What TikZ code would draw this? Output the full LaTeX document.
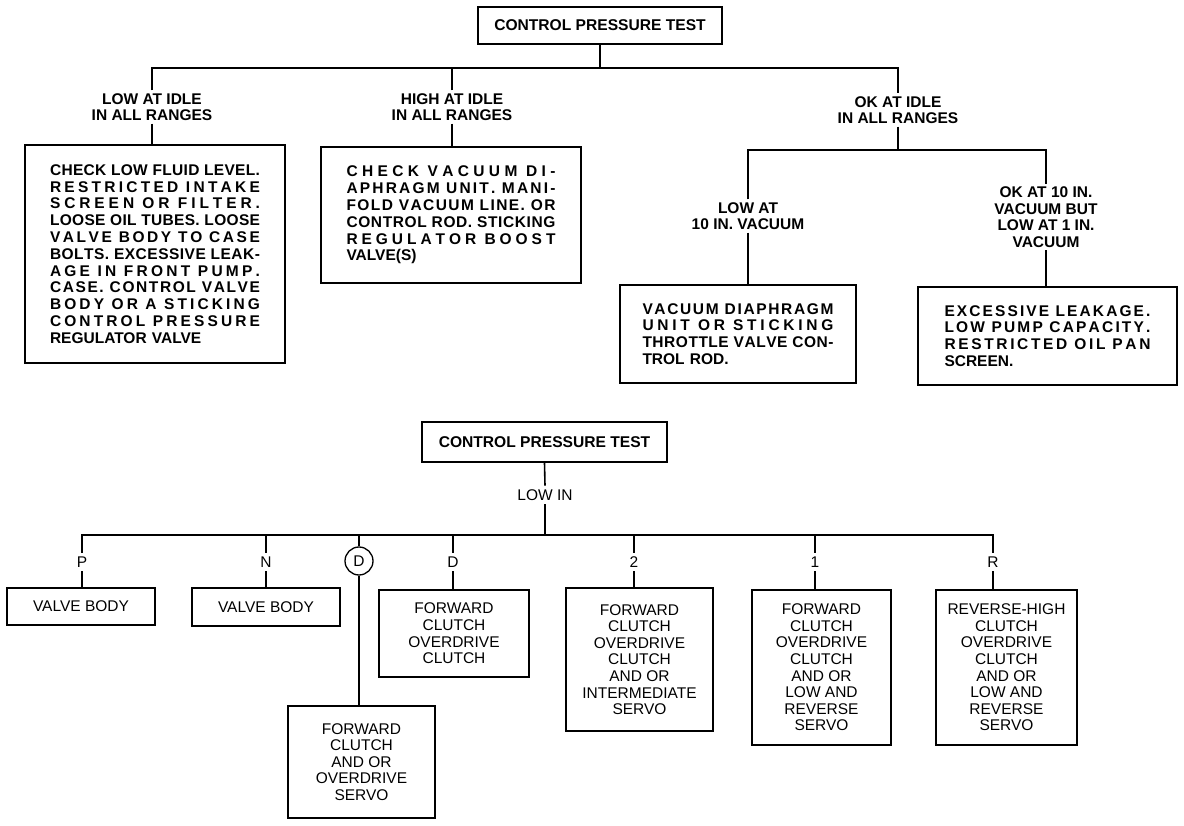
\documentclass[tikz,border=0pt]{standalone}
\usepackage{fontspec}
\setmainfont{Liberation Sans}
\usetikzlibrary{positioning,calc}
% one justified line of a text box, spread letter by letter
\ExplSyntaxOn
\seq_new:N \l_jl_words_seq
\NewDocumentCommand{\jl}{m}
  {
    \seq_set_split:Nnn \l_jl_words_seq { ~ } {#1}
    \makebox[\hsize][s]
      {
        \skip_horizontal:n { 0pt plus -1fil }
        \seq_map_inline:Nn \l_jl_words_seq
          {
            \tl_map_inline:nn {##1} { \skip_horizontal:n { 0pt plus 1fil } ####1 }
            \skip_horizontal:n { .28em }
          }
        \unskip
      }
  }
\ExplSyntaxOff

\begin{document}
\begin{tikzpicture}[x=1pt,y=-1pt,line width=1.6pt,
  rootbox/.style={draw, inner sep=0pt, font=\fontsize{15.6}{17}\selectfont\bfseries},
  topbox/.style={draw, inner sep=0pt, align=left, font=\fontsize{15.5}{16.8}\selectfont\bfseries},
  toplbl/.style={align=center, inner sep=2pt, font=\fontsize{15.5}{16.5}\selectfont\bfseries},
  botbox/.style={draw, inner sep=0pt, align=center, font=\fontsize{15.5}{16.6}\selectfont},
  botlbl/.style={inner sep=3pt, font=\fontsize{15.5}{16.5}\selectfont}]
\useasboundingbox (0,0) rectangle (1184,826);

% upper chart
\node[rootbox, minimum width=244, minimum height=37] (ctop) at (600,25.5) {CONTROL PRESSURE TEST};
\node[toplbl] (lowidle) at (152,107) {LOW AT IDLE\\IN ALL RANGES};
\node[toplbl] (highidle) at (452,107) {HIGH AT IDLE\\IN ALL RANGES};
\node[toplbl] (okidle) at (898,110) {OK AT IDLE\\IN ALL RANGES};
\node[topbox, minimum width=260, minimum height=218, text width=210pt] (chklow) at (155,254) {%
  \jl{CHECK LOW FLUID LEVEL.}\\\jl{RESTRICTED INTAKE}\\\jl{SCREEN OR FILTER.}\\%
  \jl{LOOSE OIL TUBES. LOOSE}\\\jl{VALVE BODY TO CASE}\\\jl{BOLTS. EXCESSIVE LEAK-}\\%
  \jl{AGE IN FRONT PUMP.}\\\jl{CASE. CONTROL VALVE}\\\jl{BODY OR A STICKING}\\%
  \jl{CONTROL PRESSURE}\\REGULATOR VALVE};
\node[topbox, minimum width=260, minimum height=136, text width=209pt] (chkhigh) at (451,215) {%
  \jl{CHECK VACUUM DI-}\\\jl{APHRAGM UNIT. MANI-}\\\jl{FOLD VACUUM LINE. OR}\\%
  \jl{CONTROL ROD. STICKING}\\\jl{REGULATOR BOOST}\\VALVE(S)};
\node[toplbl] (lowvac) at (748,216) {LOW AT\\10 IN. VACUUM};
\node[toplbl] (okvac) at (1046,217) {OK AT 10 IN.\\VACUUM BUT\\LOW AT 1 IN.\\VACUUM};
\node[topbox, minimum width=236, minimum height=98, text width=191pt] (diabox) at (738,334) {%
  \jl{VACUUM DIAPHRAGM}\\\jl{UNIT OR STICKING}\\\jl{THROTTLE VALVE CON-}\\TROL ROD.};
\node[topbox, minimum width=259, minimum height=98, text width=206pt] (leakbox) at (1047.5,336) {%
  \jl{EXCESSIVE LEAKAGE.}\\\jl{LOW PUMP CAPACITY.}\\\jl{RESTRICTED OIL PAN}\\SCREEN.};

\coordinate (topbar) at (600,68);
\draw (ctop.south) -- (topbar);
\draw (lowidle.north) |- (topbar) -| (okidle.north);
\draw (highidle.north) -- (highidle.north |- topbar);
\draw (lowidle.south) -- (lowidle.south |- chklow.north);
\draw (highidle.south) -- (highidle.south |- chkhigh.north);
\coordinate (okbar) at (898,150);
\draw (okidle.south) -- (okbar);
\draw (lowvac.north) |- (okbar) -| (okvac.north);
\draw (lowvac.south) -- (lowvac.south |- diabox.north);
\draw (okvac.south) -- (okvac.south |- leakbox.north);

% lower chart
\node[rootbox, minimum width=245, minimum height=40] (cbot) at (544.5,442) {CONTROL PRESSURE TEST};
\node[botlbl] (lowin) at (545,495) {LOW IN};
\node[botlbl] (selP) at (82,562) {P};
\node[botlbl] (selN) at (266,562) {N};
\node[draw, circle, line width=1.3pt, minimum size=28, inner sep=0pt, font=\fontsize{15.5}{16.5}\selectfont] (selDc) at (359,561) {D};
\node[botlbl] (selD) at (453,562) {D};
\node[botlbl] (sel2) at (634,562) {2};
\node[botlbl] (sel1) at (815,562) {1};
\node[botlbl] (selR) at (993,562) {R};
\node[botbox, minimum width=148, minimum height=37] (vbP) at (81,606.5) {VALVE BODY};
\node[botbox, minimum width=148, minimum height=38] (vbN) at (266,607) {VALVE BODY};
\node[botbox, minimum width=150, minimum height=87] (fcD) at (454,633.5) {FORWARD\\CLUTCH\\OVERDRIVE\\CLUTCH};
\node[botbox, minimum width=147, minimum height=143] (fc2) at (639.5,659.5) {FORWARD\\CLUTCH\\OVERDRIVE\\CLUTCH\\AND OR\\INTERMEDIATE\\SERVO};
\node[botbox, minimum width=139, minimum height=155] (fc1) at (821.5,667.5) {FORWARD\\CLUTCH\\OVERDRIVE\\CLUTCH\\AND OR\\LOW AND\\REVERSE\\SERVO};
\node[botbox, minimum width=141, minimum height=155] (rhR) at (1006.5,667.5) {REVERSE-HIGH\\CLUTCH\\OVERDRIVE\\CLUTCH\\AND OR\\LOW AND\\REVERSE\\SERVO};
\node[botbox, minimum width=147, minimum height=112] (servo) at (361.5,762) {FORWARD\\CLUTCH\\AND OR\\OVERDRIVE\\SERVO};

\coordinate (botbar) at (545,535);
\draw (cbot.south) -- (lowin.north);
\draw (lowin.south) -- (botbar);
\draw (selP.north) |- (botbar) -| (selR.north);
\foreach \s in {selN,selDc,selD,sel2,sel1}
  \draw (\s.north) -- (\s.north |- botbar);
\foreach \s/\b in {selP/vbP,selN/vbN,selD/fcD,sel2/fc2,sel1/fc1,selR/rhR,selDc/servo}
  \draw (\s.south) -- (\s.south |- \b.north);
\end{tikzpicture}
\end{document}
